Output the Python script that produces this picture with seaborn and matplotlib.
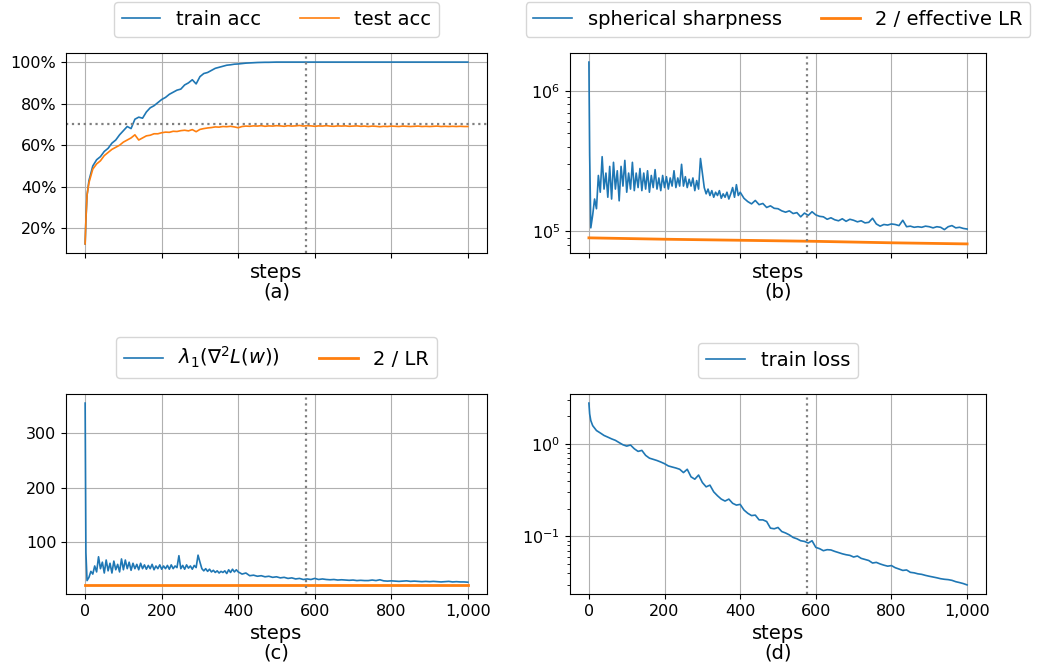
import seaborn as sns
import matplotlib.pyplot as plt
from matplotlib.ticker import PercentFormatter, StrMethodFormatter

steps = [0, 2, 5] + list(range(10, 1001, 10))
# the noisier curves (b, c) are read every 5 steps up to step 400
fine_steps = [0, 2, 5] + list(range(10, 400, 5)) + list(range(400, 1001, 10))

# (a) accuracy, in percent
train_acc = [12.5, 24, 36,
             43, 50, 53, 54.5, 57, 58.5, 61, 62.5, 65, 67,
             69, 68, 72.5, 73.5, 73, 76, 78, 79, 80.5, 82,
             83, 84.5, 85.5, 86.5, 87, 89, 90, 91.5, 89.5, 93,
             94.5, 95, 96, 97, 97.5, 98, 98.5, 98.7, 99, 99.1,
             99.3, 99.5, 99.6, 99.7, 99.8, 99.85, 99.9, 99.9, 99.95, 100,
             100, 100, 100, 100, 100, 100, 100, 100, 100, 100,
             100, 100, 100, 100, 100, 100, 100, 100, 100, 100,
             100, 100, 100, 100, 100, 100, 100, 100, 100, 100,
             100, 100, 100, 100, 100, 100, 100, 100, 100, 100,
             100, 100, 100, 100, 100, 100, 100, 100, 100, 100]
test_acc = [12.5, 24, 36,
            42, 48.5, 51, 52.5, 55, 56.5, 58, 59, 60, 61.5,
            62.5, 63.5, 65, 62.5, 63.5, 64.5, 64.8, 65.5, 65.5, 66,
            66.3, 66.2, 66.7, 66.6, 67, 67.2, 66.9, 67.5, 66.5, 67.6,
            68, 68.3, 68.5, 68.8, 68.7, 69, 68.9, 69.1, 68.8, 68.4,
            69, 69.2, 69.1, 69.3, 69.2, 69.4, 69.1, 69.3, 69.2, 69.4,
            69.3, 69.1, 69.4, 69.2, 69.3, 69.5, 69.2, 69.4, 69.3, 69.1,
            69.3, 69.2, 69.4, 69.2, 69.1, 69.3, 69.2, 69.3, 69.1, 69.2,
            69.3, 69.1, 69.2, 69.0, 69.2, 69.1, 68.9, 69.1, 69.0, 69.2,
            69.1, 69.0, 69.2, 69.1, 69.0, 69.1, 69.2, 69.0, 69.1, 69.0,
            69.1, 69.2, 69.0, 69.1, 69.0, 69.1, 69.0, 69.1, 69.0, 69.0]

# (b) spherical sharpness vs 2 / effective LR
sharpness = [1.6e6, 3.5e5, 1.06e5,
             1.31e5, 1.7e5, 1.45e5, 2.5e5, 1.9e5, 3.4e5, 2.0e5, 2.6e5, 1.75e5, 2.9e5,
             1.7e5, 3.1e5, 2.0e5, 2.7e5, 1.65e5, 2.9e5, 2.1e5, 3.2e5, 1.9e5, 2.6e5,
             2.0e5, 3.1e5, 1.95e5, 2.6e5, 2.05e5, 2.8e5, 1.95e5, 2.6e5, 2.0e5, 2.7e5,
             1.9e5, 2.5e5, 2.05e5, 2.75e5, 2.0e5, 2.4e5, 1.95e5, 2.5e5, 2.05e5, 2.45e5,
             2.0e5, 2.4e5, 2.1e5, 2.7e5, 2.05e5, 2.4e5, 2.1e5, 3.0e5, 2.1e5, 2.45e5,
             2.05e5, 2.35e5, 2.1e5, 2.4e5, 1.95e5, 2.3e5, 2.0e5, 3.3e5, 2.6e5, 2.05e5,
             1.85e5, 2.0e5, 1.8e5, 1.95e5, 1.75e5, 1.9e5, 1.8e5, 1.95e5, 1.72e5, 1.85e5,
             1.75e5, 1.9e5, 1.7e5, 1.85e5, 2.05e5, 1.75e5, 2.15e5, 1.8e5,
             1.9e5,
             1.72e5, 1.63e5, 1.57e5, 1.66e5, 1.55e5, 1.58e5, 1.48e5, 1.52e5, 1.46e5, 1.45e5,
             1.40e5, 1.37e5, 1.40e5, 1.34e5, 1.36e5, 1.27e5, 1.35e5, 1.30e5, 1.38e5, 1.31e5,
             1.28e5, 1.27e5, 1.22e5, 1.25e5, 1.21e5, 1.19e5, 1.23e5, 1.18e5, 1.22e5, 1.20e5,
             1.17e5, 1.19e5, 1.15e5, 1.16e5, 1.24e5, 1.13e5, 1.09e5, 1.12e5, 1.11e5, 1.13e5,
             1.12e5, 1.10e5, 1.20e5, 1.08e5, 1.09e5, 1.07e5, 1.08e5, 1.07e5, 1.09e5, 1.08e5,
             1.06e5, 1.08e5, 1.07e5, 1.03e5, 1.08e5, 1.10e5, 1.06e5, 1.07e5, 1.05e5, 1.04e5]
lr_steps = [0, 200, 400, 600, 800, 1000]
two_over_eff_lr = [9.0e4, 8.8e4, 8.65e4, 8.5e4, 8.3e4, 8.15e4]

# (c) top Hessian eigenvalue vs 2 / LR
lam_max = [356, 80, 28,
           34, 45, 40, 55, 44, 72, 50, 62, 42, 66,
           46, 60, 42, 64, 48, 58, 44, 68, 48, 66,
           50, 62, 47, 60, 50, 58, 48, 60, 50, 57,
           49, 56, 50, 58, 48, 55, 50, 57, 49, 55,
           50, 56, 49, 57, 50, 55, 52, 74, 50, 56,
           49, 57, 51, 55, 49, 56, 52, 75, 62, 50,
           46, 50, 45, 49, 44, 47, 43, 46, 42, 45,
           43, 46, 41, 48, 43, 49, 44, 48,
           44,
           40, 42, 37, 38, 36, 37, 35, 36, 34, 35,
           33, 34, 32, 33, 31, 32, 30, 31, 30, 32,
           30, 31, 30, 29.5, 30, 29, 29.5, 29, 28.5, 29,
           28, 28.5, 28, 28, 29, 28, 29.5, 27.5, 27, 27.5,
           27, 26.5, 27, 27.5, 26.5, 27, 26.5, 26, 26.5, 26,
           26.5, 26, 25.5, 26, 26.5, 25.5, 26, 25.5, 25.5, 25]
const_steps = [0, 1000]
two_over_lr = [20, 20]

# (d) train loss
train_loss = [2.75, 2.1, 1.78,
              1.57, 1.39, 1.31, 1.23, 1.18, 1.13, 1.09, 1.03, 0.976, 0.944,
              0.97, 0.884, 0.828, 0.849, 0.75, 0.70, 0.68, 0.66, 0.636, 0.61,
              0.577, 0.562, 0.548, 0.531, 0.489, 0.531, 0.44, 0.415, 0.46, 0.382,
              0.343, 0.358, 0.303, 0.275, 0.253, 0.241, 0.253, 0.228, 0.218, 0.222,
              0.193, 0.178, 0.168, 0.17, 0.151, 0.151, 0.145, 0.123, 0.121, 0.125,
              0.113, 0.109, 0.104, 0.0975, 0.0944, 0.0899, 0.0884, 0.0849, 0.0899, 0.0762,
              0.0738, 0.0702, 0.072, 0.0715, 0.069, 0.067, 0.065, 0.0635, 0.0625, 0.060,
              0.0615, 0.058, 0.0565, 0.055, 0.0517, 0.0525, 0.0505, 0.049, 0.0478, 0.0485,
              0.046, 0.0445, 0.043, 0.0435, 0.041, 0.0405, 0.0395, 0.039, 0.038, 0.0372,
              0.0365, 0.0358, 0.035, 0.0345, 0.0342, 0.0336, 0.0325, 0.0318, 0.031, 0.030]

marker_step = 578

blue = "#1f77b4"
orange = "#ff7f0e"

fig, axes = plt.subplots(2, 2, figsize=(10.39, 6.70), dpi=100)
W, H = 1039, 670
boxes = [(66, 53, 421), (570, 53, 416), (66, 394, 421), (570, 394, 416)]
for ax, (left, top, w) in zip(axes.flat, boxes):
    ax.set_position([left / W, 1 - (top + 200) / H, w / W, 200 / H])

ax_a, ax_b, ax_c, ax_d = axes.flat

sns.lineplot(x=steps, y=train_acc, ax=ax_a, color=blue, linewidth=1.2, label="train acc")
sns.lineplot(x=steps, y=test_acc, ax=ax_a, color=orange, linewidth=1.2, label="test acc")
ax_a.axhline(70, color="gray", linestyle=":", linewidth=1.6)
ax_a.yaxis.set_major_formatter(PercentFormatter(xmax=100, decimals=0))

sns.lineplot(x=fine_steps, y=sharpness, ax=ax_b, color=blue, linewidth=1.2, label="spherical sharpness")
sns.lineplot(x=lr_steps, y=two_over_eff_lr, ax=ax_b, color=orange, linewidth=2, label="2 / effective LR")
ax_b.set_yscale("log")

sns.lineplot(x=fine_steps, y=lam_max, ax=ax_c, color=blue, linewidth=1.2, label=r"$\lambda_1(\nabla^2 L(w))$")
sns.lineplot(x=const_steps, y=two_over_lr, ax=ax_c, color=orange, linewidth=2, label="2 / LR")

sns.lineplot(x=steps, y=train_loss, ax=ax_d, color=blue, linewidth=1.2, label="train loss")
ax_d.set_yscale("log")

for ax, tag in zip(axes.flat, "abcd"):
    ax.axvline(marker_step, color="gray", linestyle=":", linewidth=1.6)
    ax.grid(True, color="#b0b0b0", linewidth=0.8)
    ax.set_axisbelow(True)
    ax.set_xlim(-50, 1050)
    ax.set_xticks([0, 200, 400, 600, 800, 1000])
    ax.xaxis.set_major_formatter(StrMethodFormatter("{x:,.0f}"))
    ax.set_xlabel("steps\n(%s)" % tag, fontsize=14, linespacing=1.0)
    ax.set_ylabel("")
    ax.tick_params(labelsize=11.5)
    ax.legend(loc="lower center", bbox_to_anchor=(0.5, 1.08), borderaxespad=0,
              ncol=2, fontsize=14)
    if tag in "ab":
        ax.tick_params(axis="x", labelbottom=False)

fig.savefig("out.png", dpi=100)
